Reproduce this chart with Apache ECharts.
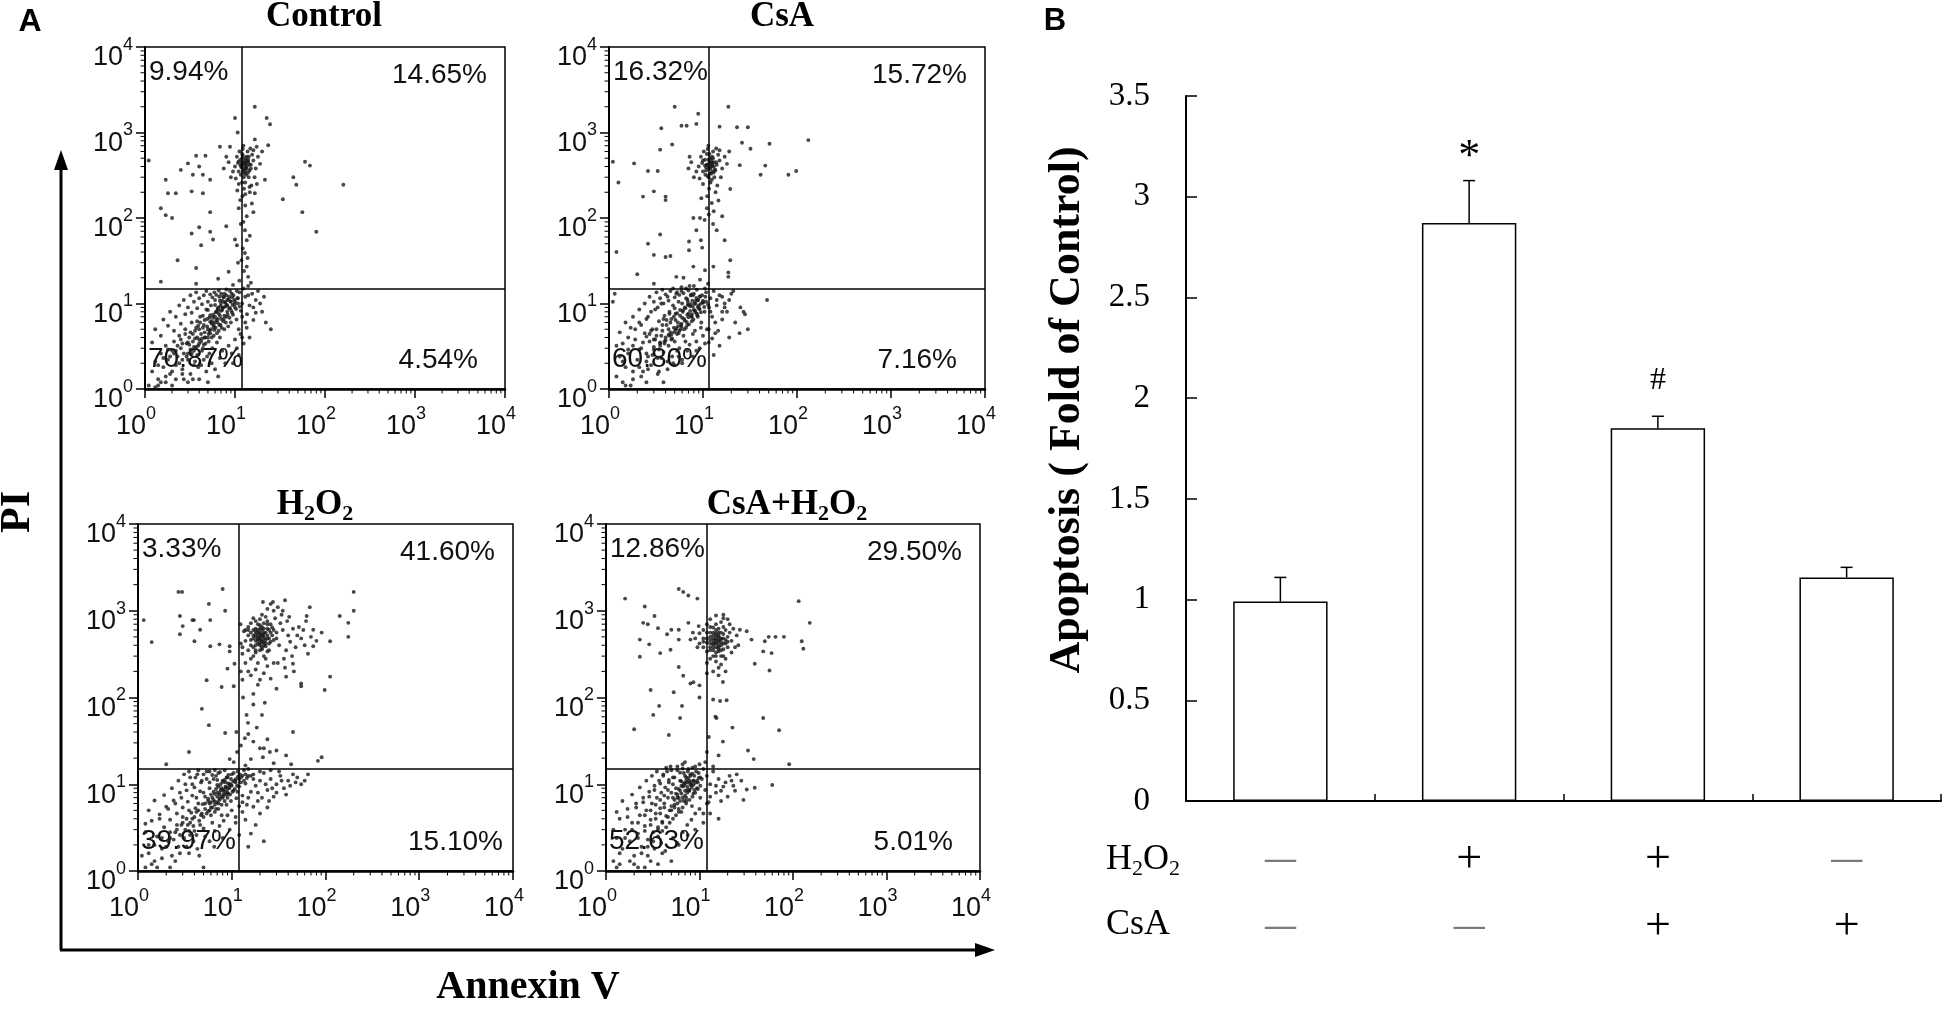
<!DOCTYPE html>
<html><head><meta charset="utf-8">
<script src="https://cdn.jsdelivr.net/npm/echarts@6/dist/echarts.min.js"></script>
<style>html,body{margin:0;padding:0;background:#fff}#c{width:1946px;height:1014px}</style>
</head><body><div id="c"></div>
<script>
// ---------- DATA ----------
const panelTitles = ['Control', 'CsA', 'H2O2', 'CsA+H2O2'];
const pctUL = ['9.94%', '16.32%', '3.33%', '12.86%'];
const pctUR = ['14.65%', '15.72%', '41.60%', '29.50%'];
const pctLL = ['70.87%', '60.80%', '39.97%', '52.63%'];
const pctLR = ['4.54%', '7.16%', '15.10%', '5.01%'];
const gateX = [12, 11.5, 12, 12];
const gateY = [15, 15, 15, 15];
const minorTickVals = [2,3,4,5,6,7,8,9,20,30,40,50,60,70,80,90,200,300,400,500,600,700,800,900,2000,3000,4000,5000,6000,7000,8000,9000];

const ctrlPts = [
[1.1,470],[1.7,280],[1.8,195],[2.2,195],[1.5,130],[1.7,108],[2,100],[2.5,365],[3,435],[3.3,205],[3.4,320],[3.7,535],[4,400],[4.4,320],[4.7,535],[4.4,195],[5.3,280],[5.3,117],[4,78],[3.3,66],[4.2,48],[5.3,69],[5.7,56],[8,80],[10,56],[10.5,48],[2.3,32],[3.7,26],[3.7,17],[1.5,18],[6.5,19.5],[8.5,23.5],[6.8,680],[8.8,680],[10,1480],[10.7,1000],[16.6,2000],[22.5,1480],[24.5,1250],[23.4,710],[16.6,830],[17.4,680],[21.5,280],[44.5,300],[48,245],[60,455],[68,410],[160,245],[34,166],[56,117],[80,69],[15.4,148],[13.5,105],[12.9,72],[13.5,55],[12.9,39],[13.5,27],[11.8,32],[14,20.5],[11.4,162],[16.6,195],[16,117],
[11,130],[12.4,90],[13,140],[11.6,85],[14.6,62],[12.2,44],[10.8,30],[13.8,34],[12.6,24],[15,17.5],[11.2,18.5],[9.5,16.5],[14.5,230],[12,260],[10.6,210],[17.5,250],[13,190],
[11,350],[12,420],[13,380],[14,450],[12.5,300],[13.5,520],[11.5,480],[14.5,360],[12,560],[13,260],[15,420],[10,400],[16,470],[12.8,330],[11,250],[13.8,600],[12.2,640],[14.2,300],[17,380],[9.5,350],[10.5,520],[15.5,550],[12.6,220],[13.2,470],[11.8,390],[16.5,300],[14.8,650],[8.5,450],[18,520],[12.4,700],[11.2,600],[10.2,290],[15.2,240],[13.6,410],[12.9,500],[14,340],[11.6,320],[19,430],[9,300],[13.1,430],[16,620],[7.5,380],[12.1,180],[14.6,200],[20,600],[8,520],[10.8,440],
[12,400],[13,420],[12.5,460],[13.5,380],[11.8,440],[14,480],[12.3,350],[13.2,390],[12.8,440],[11.5,410],[14.5,420],[12,500],[13,350],[12.6,370],[13.8,460],[11,460],[15,380],[12.2,540],[13.4,320],[14.2,520],
[1.2,1.6],[1.3,2.1],[1.4,1.3],[1.5,2.6],[1.6,1.8],[1.7,3.2],[1.8,2.2],[1.9,1.5],[2.0,2.8],[2.1,3.6],[2.2,1.9],[2.3,2.4],[2.4,4.2],[2.5,3.0],[2.6,1.7],[2.7,2.6],[2.8,5.0],[2.9,3.4],[3.0,2.2],[3.1,4.0],[3.2,2.9],[3.3,6.0],[3.4,3.6],[3.5,1.9],[3.6,4.8],[3.7,3.1],[3.8,2.5],[3.9,5.5],[4.0,3.8],[4.1,7.0],[4.2,4.4],[4.3,2.8],[4.4,5.2],[4.5,3.3],[4.6,6.4],[4.7,4.0],[4.8,8.5],[4.9,2.4],[5.0,5.0],[5.1,3.6],[5.2,6.8],[5.3,4.5],[5.4,9.5],[5.5,5.8],[5.6,3.0],[5.7,7.4],[5.8,4.2],[5.9,6.0],[6.0,11],[6.1,5.2],[6.2,8.0],[6.3,3.5],[6.4,6.6],[6.5,9.0],[6.6,4.8],[6.7,12],[6.8,7.2],[6.9,5.6],[7.0,10],[7.2,8.4],[7.4,6.2],[7.6,13],[7.8,9.2],[8.0,7.0],[8.2,11],[8.4,5.4],[8.6,8.8],[8.8,14],[9.0,10.5],[9.3,7.8],[9.6,12.5],[10,9.0],[10.4,6.5],[10.8,11.5],[11.2,13.5],[11.6,8.2],[12,10],[12.5,15],[13,12],[13.6,7.5],[14,16],[14.5,9.5],[15.5,13],[17,11],[18,14],[20,8],[22,6],[25,5],
[3.8,4.0],[4.2,3.6],[4.6,4.6],[5.0,4.0],[5.4,5.0],[5.8,5.6],[6.2,6.4],[6.6,7.6],[7.0,8.2],[7.4,9.0],[7.8,10.2],[8.2,9.5],[8.6,12],[6.0,7.0],[5.5,6.2],[4.4,3.0],[3.4,4.4],[2.9,2.4],[2.4,2.0],[2.0,1.6],[1.7,1.4],[3.1,3.3],[3.6,3.9],[4.9,5.4],[5.3,6.1],[6.4,8.6],[7.2,10.8],[8.0,12.5],[9.2,13],[10.5,14],[9.8,11],[4.0,5.0],[3.3,2.6],[2.6,3.4],[2.2,2.8],[1.9,2.4],[1.5,1.2],[2.7,1.3],[3.2,1.5],[4.5,2.2],[5.2,2.6],[3.9,1.8],[6.8,4.0],[7.6,5.0],[9.0,6.0],[11,5.0],[12,4.0],[13,6.0],[1.1,1.1],[1.3,1.05],[2.0,1.1],[3.0,1.2],[4.0,1.3],[5.0,1.2],[6.5,1.4],[9.5,2.0],[11,2.5],
[1.2,3.5],[1.3,5],[1.5,4.2],[1.6,6.5],[1.8,5.5],[1.9,8],[2.1,4.8],[2.2,7],[2.4,9.5],[2.5,5.8],[2.7,11],[2.8,7.5],[3,9],[3.2,12.5],[3.3,7.8],[3.5,10.5],[3.7,13.5],[3.8,8.8],[4,11.5],[4.3,9.8],[4.5,12.5],[4.8,14],[5,10.5],[5.3,12.8],[5.6,11.8],[5.9,13.5],[6.2,12.6],[6.6,14.2],[7,13],[7.5,11.8],[8,14.6],
[1.4,1.1],[1.7,1.2],[2.2,1.3],[2.6,1.5],[3.4,1.3],[3.6,2.1],[4.2,1.9],[4.8,1.6],[5.5,2.0],[6,1.7],[6.8,2.3],[7.2,2.8],[7.8,2.0],[8.5,3.2],[9.2,2.6],[10,3.8],[10.5,3.0],[11.5,4.4],[12.5,3.4],[13.5,5.2],[14.5,4.0],[16,6.4],[17,7.8],[19,10],[21,12],[14,12.5],[16,9],[12,7],
[3,3.5],[3.5,2.8],[3.9,3.2],[4.3,3.9],[4.7,3.4],[5.1,4.4],[5.5,4.0],[5.9,4.9],[6.3,4.5],[6.7,5.6],[7.1,5.2],[7.5,6.6],[7.9,6.0],[8.3,7.4],[8.7,6.8],[9.1,8.2],[9.5,7.4],[9.9,9.8],[10.3,8.6],[10.8,10],[11.3,9.2],[3.2,4.6],[3.7,5.2],[4.1,6.0],[4.5,5.6],[4.9,6.6],[5.3,7.3],[5.7,6.8],[6.1,7.9],[6.5,8.4],[6.9,9.3],[7.3,8.9],[7.7,10.4],[8.1,9.6],[8.5,11.2],[8.9,10.6],[9.3,11.8],[2.5,3.8],[2.8,4.4],[2.3,3.2],[2.1,2.6],[1.8,2.9],[1.6,2.3],[1.4,1.9],[2.6,2.2],[3.0,2.6],[3.5,3.1],[4.0,3.4],[4.6,4.0],[5.2,4.8],[5.8,5.3],[6.4,6.0],[7.0,6.6],[7.6,7.2],[8.2,8.0],[8.8,8.8],[9.4,9.6],[10,10.5],[10.6,11.5],[6.0,9.6],[6.8,10.8],[7.4,12],[5.0,8.4],[4.4,7.2],[3.8,6.2]
];

const csaPts = [
[1.1,455],[1.26,260],[1.85,435],[2.3,178],[3,205],[2.6,355],[3.3,355],[4,178],[4,162],[3.6,1120],[4.7,725],[3.5,630],[5,2000],[5.9,1200],[6.7,1200],[8.5,1260],[8.9,1660],[18.6,2000],[15,1170],[23,1150],[30,1150],[26,760],[32,645],[51,740],[132,815],[46,410],[41,320],[81,320],[98,355],[24.6,415],[19.5,218],[1.2,40],[2,22],[2.6,50],[3,37],[3.5,64],[4,35],[4.5,36],[5.2,20.5],[3,17],[7.9,100],[9.3,100],[8.5,72],[7.1,53],[7.1,42],[9.5,55],[9.8,45],[14,72],[17,55],[16,105],[19.5,32],[18.6,20.5],[18.6,23],[12.9,27],[10.5,24.5],[7.9,27],[6.2,20],[9.3,19],[48,11],[27,8],[24.5,4.5],[1.15,13],[1.1,10.5],
[10,350],[11,420],[12,380],[13,450],[11.5,300],[12.5,520],[10.5,480],[13.5,360],[11,560],[12,260],[14,420],[9,400],[15,470],[11.8,330],[10,250],[12.8,600],[11.2,640],[13.2,300],[16,380],[8.5,350],[9.5,520],[14.5,550],[11.6,220],[12.2,470],[10.8,390],[15.5,300],[13.8,650],[7.5,450],[17,520],[11.4,700],[10.2,600],[9.2,290],[14.2,240],[12.6,410],[11.9,500],[13,340],[10.6,320],[18,430],[8,300],[12.1,430],[15,620],[7,380],[11.1,180],[13.6,200],[19,600],[7.2,520],[9.8,440],[12.4,150],[11,130],[13,120],[10.4,95],[12.8,85],[11.5,110],[9.6,170],[14.6,160],
[11.5,380],[12,400],[11,420],[12.5,350],[11.8,450],[12.2,330],[10.8,360],[13,400],[11.4,480],[12.6,440],[10.5,410],[13.4,370],[11.2,310],[12.8,500],[11.7,560],[12.4,280],[10,470],[13.8,450],
[1.2,1.4],[1.3,2.4],[1.4,3.4],[1.5,1.8],[1.6,2.9],[1.7,5.2],[1.8,1.3],[1.9,3.8],[2.0,2.2],[2.1,6.0],[2.2,3.0],[2.3,1.6],[2.4,4.5],[2.5,2.6],[2.6,7.0],[2.7,3.6],[2.8,1.9],[2.9,5.0],[3.0,3.1],[3.1,8.5],[3.2,4.2],[3.3,2.3],[3.4,6.2],[3.5,3.5],[3.6,10],[3.7,4.8],[3.8,2.7],[3.9,7.2],[4.0,4.0],[4.1,5.6],[4.2,12],[4.3,3.2],[4.4,8.0],[4.5,4.6],[4.6,6.6],[4.7,2.4],[4.8,9.5],[4.9,5.2],[5.0,3.6],[5.1,7.6],[5.2,13],[5.3,4.4],[5.4,6.0],[5.5,10.5],[5.6,3.0],[5.7,8.4],[5.8,5.0],[5.9,14],[6.0,6.8],[6.2,4.2],[6.4,9.0],[6.6,11.5],[6.8,5.6],[7.0,7.6],[7.2,16],[7.4,9.8],[7.6,6.2],[7.8,12.5],[8.0,8.4],[8.2,4.8],[8.4,10.8],[8.6,14.5],[8.8,7.0],[9.0,9.4],[9.3,12],[9.6,6.0],[10,10.2],[10.4,8.0],[10.8,13.5],[11,5.0],[11.3,17],[11.6,9.0],[12,11.5],[12.5,7.0],[13,14],[13.5,4.5],[14,9.5],[15,12.5],[16,6.5],[17,10],[18,8.0],[20,13],[22,6.0],[25,9.0],[28,7.5],[30,5.0],[19,4.0],[15,3.2],[13,2.5],
[4.4,4.2],[4.9,4.6],[5.4,5.4],[5.9,5.8],[6.3,6.6],[6.8,7.4],[7.3,8.2],[7.8,9.2],[8.3,10],[8.8,11],[9.2,8.6],[8.6,7.6],[7.6,7.0],[6.6,5.2],[5.6,4.8],[4.6,3.8],[3.9,3.4],[3.4,2.9],[2.9,2.5],[2.5,2.1],[2.1,1.8],[1.8,1.6],[6.1,8.0],[7.0,9.6],[5.1,6.4],[4.3,5.0],[3.6,4.2],[3.1,3.8],[2.7,4.4],[6.9,10.5],[9.8,12.5],[10.5,15],[8.0,13],[5.3,2.8],[6.5,3.6],[7.8,4.4],[9.5,5.2],[3.3,1.5],[4.2,1.7],[5.0,1.9],[2.5,1.2],[1.5,1.1],[3.8,1.2],[6.0,2.2],[8.5,2.8],[11.5,3.5],
[1.2,3.2],[1.3,4.6],[1.5,6],[1.6,4],[1.8,7],[1.9,5],[2.1,8.5],[2.2,5.6],[2.4,10],[2.5,6.6],[2.7,12],[2.8,8],[3,10.5],[3.2,13.5],[3.3,9],[3.5,11.5],[3.7,14.5],[3.8,10],[4,12.8],[4.3,10.8],[4.5,14],[4.8,15],[5,11.8],[5.3,13.6],[5.6,12.6],[5.9,15.5],[6.2,13.2],[6.6,15],[7,14.2],[7.5,12.8],[8,16],
[1.4,1.2],[1.7,1.1],[2.2,1.4],[2.6,1.7],[3.4,1.6],[3.6,2.3],[4.2,2.1],[4.8,2.0],[5.5,2.4],[6,2.0],[6.8,2.8],[7.2,3.3],[7.8,2.4],[8.5,3.6],[9.2,3.0],[10,4.2],[10.5,3.4],[11.5,5.0],[12.5,3.9],[13.5,6.0],[14.5,4.8],[16,8.0],[17,9.0],[19,11],[21,14],[14,11],[16,12],[12,8],
[3,3.8],[3.5,3.2],[3.9,3.6],[4.3,4.3],[4.7,3.9],[5.1,4.9],[5.5,4.5],[5.9,5.4],[6.3,5.0],[6.7,6.1],[7.1,5.7],[7.5,7.1],[7.9,6.5],[8.3,7.9],[8.7,7.3],[9.1,8.7],[9.5,7.9],[9.9,10.3],[10.3,9.1],[10.8,10.5],[11.3,9.7],[3.2,5.0],[3.7,5.6],[4.1,6.4],[4.5,6.0],[4.9,7.0],[5.3,7.7],[5.7,7.2],[6.1,8.3],[6.5,8.8],[6.9,9.7],[7.3,9.3],[7.7,10.8],[8.1,10],[8.5,11.6],[8.9,11],[9.3,12.2],[2.5,4.1],[2.8,4.8],[2.3,3.5],[2.1,2.9],[1.8,3.2],[1.6,2.6],[1.4,2.1],[2.6,2.4],[3.0,2.9],[3.5,3.4],[4.0,3.7],[4.6,4.3],[5.2,5.1],[5.8,5.6],[6.4,6.3],[7.0,6.9],[7.6,7.5],[8.2,8.3],[8.8,9.1],[9.4,9.9],[10,10.8],[10.6,12],[6.0,10],[6.8,11.2],[7.4,12.4],[5.0,8.8],[4.4,7.6],[3.8,6.6]
];

const h2o2Pts = [
[1.15,780],[1.4,435],[2.7,1650],[2.95,1650],[2.8,870],[3,665],[2.8,535],[3.8,780],[3.95,780],[4.6,605],[4,445],[5.7,1200],[8,1780],[8.5,1000],[5.9,780],[5.9,390],[7.4,410],[9.5,390],[9.5,340],[5.4,158],[7.8,132],[10.5,135],[10.7,245],[9,215],[4.8,74],[5.7,48],[8.5,39],[3.5,23.5],[2,17],[11.2,40],[11.4,23.5],
[200,1650],[200,1000],[175,725],[175,500],[142,870],[112,445],[112,174],[98,122],[91,560],[74,605],[74,390],[68,1100],[63,870],[55,145],[55,135],[45,245],[38,174],[30,126],[45,40],[37,1320],[27.5,1260],[21.5,1260],[14.4,63],[17,83],[21,63],[22.5,87],[14.9,51],[13.2,100],[17,110],
[13.8,34],[17,31],[20,26],[22,26],[16,19.5],[21.5,20.5],[25.5,23.5],[30,24.5],[38,21.5],[43,17],[83,18.6],[91,20.5],[9.5,19.5],[10.5,18],[12.5,28],[15,38],[18.5,45],[24,33],[28,17.5],[14,16.5],
[20,500],[18,450],[22,560],[16,400],[24,620],[19,700],[21,380],[17,600],[23,460],[15,520],[25,420],[20,800],[18,330],[22,300],[26,700],[14,450],[19,560],[21,650],[17,380],[23,850],[16,280],[24,340],[20,420],[18,760],[22,480],[15,650],[27,520],[19,250],[21,900],[13,380],[25,600],[17,480],[23,390],[16,560],[20,620],[18,540],[22,720],[24,480],[19,420],[21,520],[15,350],[26,440],[17,820],[28,600],[14,600],[20,350],[23,280],[18,620],[22,400],[16,720],[21,450],[19,480],[24,760],[17,300],[25,350],[20,560],[18,400],[22,620],[30,480],[32,400],[35,600],[38,350],[33,720],[40,520],[36,280],[42,440],[45,620],[31,250],[48,380],[50,520],[29,820],[34,900],[37,220],[44,300],[52,650],[39,760],[28,1000],[31,1100],[26,1200],[24,1050],[35,1000],[41,850],[55,480],[60,400],[58,600],[65,320],[70,500],[46,200],[62,760],[80,450],[14,250],[13,320],[12.5,420],[13.5,580],[12.4,700],[15,200],[16,180],[18,210],[20,160],[22,190],[24,230],[19,140],[26,165],[28,250],[12.5,200],[13,160],
[20,480],[21,520],[19,460],[22,500],[20,540],[18,500],[21,440],[23,560],[19,600],[22,430],[20,460],[24,520],[18,580],[21,600],[20,400],[19,520],[22,540],[23,420],[17,520],[25,480],[20,680],[18,350],[21,360],[24,700],[26,560],[28,460],[30,560],[27,640],[16,460],[15,600],
[1.1,1.5],[1.2,2.8],[1.3,2.0],[1.4,3.8],[1.5,1.3],[1.6,2.5],[1.7,4.5],[1.8,1.8],[1.9,3.2],[2.0,5.5],[2.1,2.2],[2.2,3.9],[2.3,1.5],[2.4,6.5],[2.5,2.8],[2.6,4.6],[2.7,1.9],[2.8,8.0],[2.9,3.4],[3.0,5.4],[3.1,2.4],[3.2,10],[3.3,4.0],[3.4,6.3],[3.5,2.9],[3.6,12],[3.7,4.7],[3.8,7.4],[3.9,3.3],[4.0,9.2],[4.1,5.3],[4.2,2.6],[4.3,13],[4.4,6.0],[4.5,3.8],[4.6,8.3],[4.7,4.4],[4.8,11],[4.9,5.9],[5.0,3.1],[5.2,7.2],[5.4,14],[5.6,4.9],[5.8,9.0],[6.0,6.2],[6.2,3.6],[6.4,11.5],[6.6,7.7],[6.8,5.2],[7.0,9.8],[7.2,13.5],[7.4,6.6],[7.6,8.6],[7.8,4.4],[8.0,11],[8.2,7.4],[8.4,14.5],[8.6,9.2],[8.8,5.8],[9.0,12],[9.2,7.8],[9.5,10],[9.8,6.4],[10,13],[10.4,8.4],[10.8,11],[11.2,6.9],[11.6,14],[12,9.4],[12.5,12],[13,7.4],[13.5,14.5],[14,10.2],[14.5,5.8],[15,12.5],[16,8.2],[17,13],[18,9.6],[19,6.4],[20,11],[22,13.5],[24,8.6],[26,11.5],[28,7.2],[30,10],[33,12.5],[36,9],[40,11],[45,13],[50,12],[55,10],[20,4.6],[18,3.4],[24,5.4],[16,2.7],[14,3.9],[22,2.2],[12,2.6],[15,1.9],
[6.2,7.0],[6.6,6.3],[7.0,8.0],[7.4,7.6],[7.8,9.0],[8.2,8.6],[8.6,10.5],[9.0,8.0],[9.4,9.0],[9.8,11.5],[6.0,5.4],[5.6,6.4],[5.2,5.2],[4.8,4.6],[4.4,5.0],[4.0,4.2],[3.6,3.6],[3.2,3.0],[2.8,2.6],[2.4,2.3],[2.0,1.9],[7.2,6.0],[8.0,7.0],[8.8,7.6],[10,9.6],[11,10.5],[12,11.5],[13,12.5],[14,13],[15,15],[10.5,13.5],[11.5,8.2],[5.0,8.0],[5.8,10.5],[6.8,12.5],[4.2,7.0],[3.5,5.0],[3.0,4.2],[2.6,3.4],[2.2,2.8],[1.8,2.4],[1.5,2.0],[1.3,1.6],[1.2,1.1],[1.6,1.1],[2.5,1.3],[3.5,1.6],[5.0,1.1],[4.5,1.5],[6.5,1.9],[8.0,2.4],[9.5,3.0],[11,3.6],[13,4.8],
[1.2,3.5],[1.3,5],[1.5,6.5],[1.7,4],[1.9,7.5],[2.1,5.2],[2.3,9],[2.5,6],[2.7,11],[2.9,7],[3.1,13],[3.3,8.5],[3.5,14],[3.8,10],[4.1,12],[4.4,14.5],[4.7,10.5],[5,13],[5.4,11.5],[5.8,14],[6.2,12.8],[6.6,14.6],[7,11.2],[7.5,13.8],
[1.4,1.2],[1.8,1.4],[2.2,1.1],[2.8,1.6],[3.3,1.9],[3.9,2.2],[4.3,1.8],[5.2,2.5],[5.8,2.2],[6.6,2.9],[7.4,3.3],[8.2,3.8],[9,4.4],[10,5],[11,4.2],[12,5.6],[13,6.2],[15,7],[17,5.5],[19,8],[21,7],[23,10],[25,6.4],[27,9],[30,8],[34,11],[38,7.6],[42,9.6],[48,10.5],[60,11],[65,13],[32,14],[26,14.5],[20,14],[17,11.5],
[5,4.2],[5.4,4.6],[5.8,5.0],[6.2,5.4],[6.6,5.8],[7.0,6.2],[7.4,6.8],[7.8,7.2],[8.2,7.8],[8.6,8.2],[9.0,8.8],[9.4,9.4],[9.8,10],[10.4,10.8],[11,11.4],[11.6,12.2],[12.2,13],[5.2,6.0],[5.6,6.8],[6.0,7.6],[6.4,8.2],[6.8,8.8],[7.2,9.4],[7.6,10],[8.0,10.6],[8.4,11.2],[8.8,12],[9.2,12.8],[6.0,4.4],[6.6,4.8],[7.2,5.2],[7.8,5.8],[8.4,6.4],[9.0,7.0],[9.6,7.6],[10.2,8.2],[10.8,8.8],[11.4,9.6],[12.5,10.5],[13.5,11],[14.5,11.8],[16,12.5],[4.2,4.8],[3.8,4.0],[3.4,3.4],[3.0,3.6],[2.6,3.0],[2.2,2.4],[4.6,3.4],[4.0,2.9],[3.6,2.6],[7.4,8.0],[8.0,8.6],[8.6,9.4],[9.2,10.2],[7.0,7.2],[6.4,6.6],[5.8,6.0]
];

const csaH2o2Pts = [
[1.6,1380],[2.6,1120],[6,1780],[6.7,1650],[7.6,1500],[9.5,1380],[3.3,870],[2.5,725],[2.8,700],[3.6,630],[2.3,465],[2.3,295],[2.9,410],[3.8,325],[4.5,535],[5,605],[6,605],[6,465],[7.6,725],[8,465],[9.8,665],[4.9,355],[6,225],[6.7,178],[8,145],[8.6,150],[10,138],[10,100],[6.5,80],[6.2,58],[5.3,115],[3,122],[3.2,63],[3.7,80],[2,43],[4.7,37],[14,95],[16.6,91],[14.8,60],[15.2,58],[17.8,151],[19.5,93],[22.5,45],[17.8,31],[16,21.5],[12,23.5],[12.6,35],[27,605],[32,580],[36,465],[39,245],[48,340],[50,445],[55,500],[59,325],[56,205],[65,500],[80,500],[115,1290],[151,725],[124,445],[129,365],[48,58],[71,42],[33,24.5],[38,19.5],[91,17],[60,9.8],[39,9.1],[32,8.7],[29.5,6.6],
[15,420],[14,380],[16,460],[13,500],[17,400],[15,550],[12,430],[18,480],[14,300],[16,620],[13,350],[17,560],[15,260],[19,420],[12,560],[16,340],[14,480],[18,650],[13,650],[20,500],[15,700],[11,480],[17,300],[14,560],[16,400],[19,600],[12,340],[18,360],[15,480],[13,420],[21,560],[14,640],[16,520],[17,740],[12,250],[20,380],[11,380],[22,450],[15,330],[18,820],[13,280],[16,220],[14,200],[19,280],[17,240],[23,620],[10,420],[24,380],[21,700],[12,700],[15,600],[14,420],[16,380],[17,480],[13,560],[11,600],[25,520],[26,400],[9,480],[10,550],[22,330],[20,800],[18,900],[15,880],[13,800],[12,190],[16,180],[19,200],[8.5,560],[9.5,380],
[15,430],[16,440],[14,410],[15,460],[17,430],[16,500],[14,450],[15,380],[17,470],[13,460],[18,420],[16,360],[15,520],[14,350],[18,540],[16,560],[19,460],[12,480],[13,380],[17,350],[20,440],[15,300],[14,520],[11,440],[18,300],
[1.2,1.3],[1.3,2.4],[1.4,4.0],[1.5,1.8],[1.6,3.0],[1.7,5.2],[1.8,2.2],[1.9,3.6],[2.0,1.5],[2.1,6.0],[2.2,2.7],[2.3,4.4],[2.4,1.9],[2.5,7.0],[2.6,3.3],[2.7,5.0],[2.8,2.3],[2.9,8.2],[3.0,3.9],[3.1,6.0],[3.2,2.8],[3.3,9.6],[3.4,4.6],[3.5,7.0],[3.6,3.2],[3.7,11],[3.8,5.3],[3.9,8.0],[4.0,3.7],[4.1,12.5],[4.2,6.0],[4.3,9.2],[4.4,4.3],[4.5,14],[4.6,7.0],[4.7,10.5],[4.8,5.0],[4.9,16],[5.0,8.0],[5.2,12],[5.4,5.8],[5.6,9.0],[5.8,14.5],[6.0,7.0],[6.2,11],[6.4,4.8],[6.6,17],[6.8,9.6],[7.0,12.5],[7.2,6.4],[7.4,10.5],[7.6,15],[7.8,8.4],[8.0,13],[8.3,5.6],[8.6,11],[9.0,16],[9.4,9.0],[9.8,13.5],[10.2,7.0],[10.6,11.5],[11,15],[11.5,8.6],[12,12.5],[12.5,6.2],[13,10],[14,14],[15,8.0],[16,11.5],[17,6.4],[18,9.4],[20,7.2],[22,11],[24,8.4],[13,4.6],[16,4.0],[11,3.6],[9.0,3.0],[7.5,2.6],
[5.0,5.6],[5.4,6.6],[5.8,7.6],[6.2,8.4],[6.6,9.4],[7.0,10.2],[7.4,8.6],[7.8,11],[8.2,9.8],[8.6,7.8],[6.0,5.2],[5.6,4.4],[5.2,4.0],[4.8,3.6],[4.4,3.2],[4.0,2.9],[3.6,2.5],[3.2,2.2],[2.8,1.9],[2.4,1.6],[6.4,10.8],[7.2,12],[8.0,10.5],[8.8,12.5],[9.6,10.5],[10.2,12],[5.2,10],[4.6,8.6],[4.2,7.4],[3.8,6.6],[3.4,5.8],[3.0,5.0],[2.6,4.4],[2.2,3.6],[1.9,3.0],[1.6,2.4],[1.4,1.6],[2.0,1.2],[3.0,1.3],[4.0,1.6],[5.0,1.3],[6.0,2.0],[1.3,1.1],[2.6,1.1],[3.6,1.2],[6.8,13.5],[8.4,15.5],[10,17],[9.2,14],[11.5,18],
[1.2,3.0],[1.3,4.8],[1.5,6.4],[1.7,4.2],[1.9,7.6],[2.1,5.4],[2.3,9.2],[2.5,6.2],[2.7,11],[2.9,7.2],[3.1,12.5],[3.3,8.6],[3.5,14],[3.8,10.2],[4.1,13],[4.4,15.5],[4.7,11.2],[5,14.5],[5.4,12],[5.8,16],[6.2,13.6],[6.6,15.2],[7,18],[7.5,14],
[1.4,1.2],[1.8,1.3],[2.2,1.1],[2.8,1.5],[3.3,1.8],[3.9,2.1],[4.3,1.7],[5.2,2.4],[5.8,2.1],[6.6,2.8],[7.4,3.4],[8.2,3.9],[9,4.6],[10,5.2],[11,4.6],[12,6],[13,7.2],[15,9.6],[17,8.4],[19,10.5],[21,12.5],[23,9.6],[25,13],[28,11],[14,16],
[5,5.0],[5.4,5.4],[5.8,6.0],[6.2,6.4],[6.6,7.0],[7.0,7.4],[7.4,8.0],[7.8,8.6],[8.2,9.2],[8.6,9.8],[9.0,10.4],[9.4,11],[9.8,11.8],[5.2,7.0],[5.6,7.8],[6.0,8.8],[6.4,9.6],[6.8,10.2],[7.2,11],[7.6,11.8],[8.0,12.5],[8.4,13.2],[6.0,4.8],[6.6,5.4],[7.2,6.0],[7.8,6.6],[8.4,7.2],[9.0,8.0],[9.6,8.8],[10.2,9.6],[4.2,5.4],[3.8,4.6],[3.4,4.0],[3.0,3.4],[2.6,2.9],[2.2,2.4],[4.6,4.2],[4.0,3.6],[3.6,3.0],[7.4,9.4],[8.0,10],[8.6,11],[7.0,8.4],[6.4,7.8],[5.8,7.0],[7.2,7.0],[6.8,6.4],[8.8,8.6]
];

const barCategories = ['Control', 'H2O2', 'CsA+H2O2', 'CsA'];
const barValues = [0.99, 2.87, 1.85, 1.11];
const barErrTop = [1.11, 3.08, 1.91, 1.16];
const sigMarks = ['', '*', '#', ''];
const h2o2Row = ['−', '+', '+', '−'];
const csaRow = ['−', '−', '+', '+'];
const rowHeaders = ['H2O2', 'CsA'];

// ---------- LAYOUT ----------
const panelPts = [ctrlPts, csaPts, h2o2Pts, csaH2o2Pts];
const L = [
  {l:145, t:47, w:360, h:342, tx:324, ty:17, lr:-27},
  {l:609, t:47, w:376, h:342, tx:782, ty:17, lr:-28},
  {l:138, t:524, w:375, h:347, tx:315, ty:505, lr:-10},
  {l:606, t:524, w:374, h:347, tx:787, ty:505, lr:-27}
];
const SERIF = '"Liberation Serif", "Times New Roman", serif';
const SANS = '"Liberation Sans", Arial, sans-serif';
const subify = s => s.replace(/([A-Za-z])2/g, '$1{s|2}');
const supFmt = v => '{b|10}{s|' + Math.round(Math.log10(v)) + '}';
const supRich = {b:{fontSize:27, fontFamily:SANS, lineHeight:44, color:'#111'}, s:{fontSize:18, fontFamily:SANS, lineHeight:18, verticalAlign:'top', color:'#111'}};

const grids = [], xAxes = [], yAxes = [], series = [], graphics = [];
L.forEach((g, i) => {
  grids.push({left:g.l, top:g.t, width:g.w, height:g.h, show:true, borderColor:'#000', borderWidth:1.5, backgroundColor:'transparent'});
  xAxes.push({type:'log', gridIndex:i, min:1, max:10000, logBase:10, splitNumber:4, position:'bottom',
    axisLine:{show:true, lineStyle:{color:'#000', width:2.5}},
    axisTick:{show:true, length:9, lineStyle:{color:'#000', width:1.5}},
    splitLine:{show:false},
    axisLabel:{formatter:supFmt, margin:16, padding:[0,18,0,0], color:'#111', rich:supRich}
  });
  yAxes.push({type:'log', gridIndex:i, min:1, max:10000, logBase:10, splitNumber:4, position:'left',
    axisLine:{show:true, lineStyle:{color:'#000', width:2}},
    axisTick:{show:true, length:9, lineStyle:{color:'#000', width:1.5}},
    splitLine:{show:false},
    axisLabel:{formatter:supFmt, margin:12, padding:[22,0,0,0], color:'#111', rich:supRich}
  });
  series.push({type:'scatter', xAxisIndex:i, yAxisIndex:i, data:panelPts[i], symbol:'circle', symbolSize:3.9,
    itemStyle:{color:'#1a1a1a'}, silent:true, z:2,
    markLine:{silent:true, symbol:'none', label:{show:false}, lineStyle:{color:'#000', width:1.5, type:'solid'},
      data:[{xAxis:gateX[i]}, {yAxis:gateY[i]}]}
  });
  // minor log ticks drawn through the axes' own scale
  series.push({type:'custom', xAxisIndex:i, yAxisIndex:i, silent:true, z:3,
    data:minorTickVals.map(v => [v, 1]),
    renderItem:(p, api) => { const c = api.coord([api.value(0), 1]);
      return {type:'line', shape:{x1:c[0], y1:c[1], x2:c[0], y2:c[1] + 4.5}, style:{stroke:'#000', lineWidth:1}}; }
  });
  series.push({type:'custom', xAxisIndex:i, yAxisIndex:i, silent:true, z:3,
    data:minorTickVals.map(v => [1, v]),
    renderItem:(p, api) => { const c = api.coord([1, api.value(1)]);
      return {type:'line', shape:{x1:c[0] - 4.5, y1:c[1], x2:c[0], y2:c[1]}, style:{stroke:'#000', lineWidth:1}}; }
  });
  graphics.push({type:'text', x:g.tx, y:g.ty, silent:true, style:{text:subify(panelTitles[i]), fontSize:35, fontWeight:'bold', fontFamily:SERIF, lineHeight:40, fill:'#000', align:'center', verticalAlign:'middle',
    rich:{s:{fontSize:22, fontWeight:'bold', fontFamily:SERIF, lineHeight:22, verticalAlign:'bottom'}}}});
  const pct = (x, y, t, al) => ({type:'text', x, y, silent:true, style:{text:t, fontSize:28, fontFamily:SANS, fill:'#111', align:al, verticalAlign:'middle'}});
  graphics.push(pct(g.l + 4, g.t + 25, pctUL[i], 'left'));
  graphics.push(pct(g.l + g.w - 18, g.t + 28, pctUR[i], 'right'));
  graphics.push(pct(g.l + 3, g.t + g.h - 30, pctLL[i], 'left'));
  graphics.push(pct(g.l + g.w + g.lr, g.t + g.h - 29, pctLR[i], 'right'));
});

// ---------- BAR CHART (B) ----------
grids.push({left:1186, top:96, width:755, height:705, show:false});
const sym = c => c === '+' ? '{p|+}' : '{m|—}';
xAxes.push({type:'category', gridIndex:4, data:barCategories, boundaryGap:true,
  axisLine:{show:true, lineStyle:{color:'#000', width:2}},
  axisTick:{show:true, inside:true, length:7, lineStyle:{color:'#000', width:1.5}},
  splitLine:{show:false},
  axisLabel:{interval:0, margin:25, formatter:(v, idx) => sym(h2o2Row[idx]) + '\n' + sym(csaRow[idx]),
    rich:{p:{fontSize:46, fontFamily:SERIF, lineHeight:67, color:'#000'}, m:{fontSize:31, fontFamily:SERIF, fontWeight:'bold', lineHeight:67, color:'#7a7a7a'}}}
});
yAxes.push({type:'value', gridIndex:4, min:0, max:3.5, interval:0.5,
  axisLine:{show:true, lineStyle:{color:'#000', width:2}},
  axisTick:{show:true, inside:true, length:11, lineStyle:{color:'#000', width:1.5}},
  splitLine:{show:false},
  axisLabel:{fontFamily:SERIF, fontSize:33, color:'#000', margin:36}
});
series.push({type:'bar', xAxisIndex:4, yAxisIndex:4, data:barValues, barWidth:'50%', silent:true,
  itemStyle:{color:'#fff', borderColor:'#000', borderWidth:1.5}});
series.push({type:'custom', xAxisIndex:4, yAxisIndex:4, silent:true, z:5,
  data:barValues.map((v, i) => [i, v, barErrTop[i]]),
  renderItem:(p, api) => {
    const lo = api.coord([api.value(0), api.value(1)]);
    const hi = api.coord([api.value(0), api.value(2)]);
    const mark = sigMarks[p.dataIndex];
    const kids = [
      {type:'line', shape:{x1:lo[0], y1:lo[1], x2:hi[0], y2:hi[1]}, style:{stroke:'#000', lineWidth:1.5}},
      {type:'line', shape:{x1:hi[0] - 6, y1:hi[1], x2:hi[0] + 6, y2:hi[1]}, style:{stroke:'#000', lineWidth:1.5}}
    ];
    if (mark) kids.push({type:'text', x:hi[0], y:hi[1] - (mark === '*' ? 23 : 36),
      style:{text:mark, fontSize:mark === '*' ? 44 : 32, fontFamily:SERIF, fill:'#000', align:'center', verticalAlign:'middle'}});
    return {type:'group', children:kids};
  }
});

// ---------- DECORATION ----------
graphics.push({type:'text', x:30, y:22, silent:true, style:{text:'A', fontSize:32, fontWeight:'bold', fontFamily:SANS, fill:'#000', align:'center', verticalAlign:'middle'}});
graphics.push({type:'text', x:1055, y:21, silent:true, style:{text:'B', fontSize:31, fontWeight:'bold', fontFamily:SANS, fill:'#000', align:'center', verticalAlign:'middle'}});
graphics.push({type:'text', x:18, y:512, rotation:Math.PI / 2, silent:true, style:{text:'PI', fontSize:42, fontWeight:'bold', fontFamily:SERIF, fill:'#000', align:'center', verticalAlign:'middle'}});
graphics.push({type:'text', x:528, y:988, silent:true, style:{text:'Annexin V', fontSize:40, fontWeight:'bold', fontFamily:SERIF, fill:'#000', align:'center', verticalAlign:'middle'}});
graphics.push({type:'polyline', silent:true, shape:{points:[[61, 950], [61, 166]]}, style:{stroke:'#000', lineWidth:3, fill:null}});
graphics.push({type:'polygon', silent:true, shape:{points:[[61, 150], [54, 170], [68, 170]]}, style:{fill:'#000'}});
graphics.push({type:'polyline', silent:true, shape:{points:[[60, 950], [978, 950]]}, style:{stroke:'#000', lineWidth:3, fill:null}});
graphics.push({type:'polygon', silent:true, shape:{points:[[995, 950], [975, 943], [975, 957]]}, style:{fill:'#000'}});
graphics.push({type:'text', x:1068, y:410, rotation:Math.PI / 2, silent:true, style:{text:'Apoptosis ( Fold of Control)', fontSize:44, fontWeight:'bold', fontFamily:SERIF, fill:'#000', align:'center', verticalAlign:'middle'}});
graphics.push({type:'text', x:1106, y:860, silent:true, style:{text:subify(rowHeaders[0]), fontSize:36, fontFamily:SERIF, lineHeight:40, fill:'#000', align:'left', verticalAlign:'middle',
  rich:{s:{fontSize:22, fontFamily:SERIF, lineHeight:22, verticalAlign:'bottom'}}}});
graphics.push({type:'text', x:1106, y:925, silent:true, style:{text:rowHeaders[1], fontSize:36, fontFamily:SERIF, fill:'#000', align:'left', verticalAlign:'middle'}});

const chart = echarts.init(document.getElementById('c'));
chart.setOption({
  animation:false, backgroundColor:'#fff',
  grid:grids, xAxis:xAxes, yAxis:yAxes, series:series, graphic:graphics
});
</script></body></html>
